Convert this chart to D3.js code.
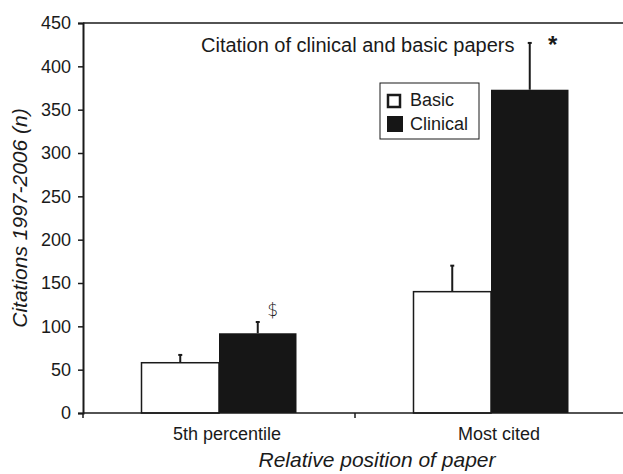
<!DOCTYPE html>
<html lang="en">
<head>
    <meta charset="UTF-8">
    <title>Citation of clinical and basic papers</title>
    <script src="https://d3js.org/d3.v7.min.js"></script>
    <style>
        body { margin: 0; background: #fff; }
        text { font-family: "Liberation Sans", Arial, sans-serif; fill: #1a1a1a; }
    </style>
</head>
<body>
    <svg width="623" height="474"></svg>
    <script>
        // data
        const categories = ["5th percentile", "Most cited"];
        const series = ["Basic", "Clinical"];
        const basicValues = [58, 140];
        const basicErrTop = [67, 170];
        const clinicalValues = [92, 373];
        const clinicalErrTop = [105, 427];
        const yTicks = [0, 50, 100, 150, 200, 250, 300, 350, 400, 450];
        const marks = ["$", "*"];

        const width = 623, height = 474;
        const margin = {top: 23, left: 83, bottom: 61};
        const svg = d3.select("svg");

        const x0 = d3.scaleBand()
            .domain(categories)
            .range([margin.left, 627]);

        const x1 = d3.scaleBand()
            .domain(series)
            .range([58.5, x0.bandwidth() - 58.5]);

        const y = d3.scaleLinear()
            .domain([0, 450])
            .range([height - margin.bottom, margin.top]);

        const fill = {Basic: "#fff", Clinical: "#161616"};

        const rows = categories.map((c, i) => ({
            cat: c,
            vals: [
                {s: "Basic", v: basicValues[i], e: basicErrTop[i]},
                {s: "Clinical", v: clinicalValues[i], e: clinicalErrTop[i]}
            ]
        }));

        // top frame line
        svg.append("line")
            .attr("x1", margin.left).attr("x2", width)
            .attr("y1", y(450)).attr("y2", y(450))
            .attr("stroke", "#1a1a1a").attr("stroke-width", 1.5);

        // y axis
        const yAxis = svg.append("g")
            .attr("transform", `translate(${margin.left},0)`)
            .call(d3.axisLeft(y).tickValues(yTicks).tickSize(5).tickPadding(7));
        yAxis.select(".domain").attr("stroke", "#1a1a1a").attr("stroke-width", 2);
        yAxis.selectAll(".tick line").attr("stroke", "#1a1a1a").attr("stroke-width", 1.5);
        yAxis.selectAll(".tick text")
            .style("font-size", "18px")
            .style("font-family", "Liberation Sans, Arial, sans-serif")
            .attr("fill", "#1a1a1a");

        // bars
        const groups = svg.selectAll(".grp")
            .data(rows)
            .enter().append("g")
            .attr("class", "grp")
            .attr("transform", d => `translate(${x0(d.cat)},0)`);

        // error bars (upper only)
        groups.selectAll(".err")
            .data(d => d.vals)
            .enter().append("g")
            .attr("class", "err")
            .each(function(d) {
                const g = d3.select(this);
                const cx = x1(d.s) + x1.bandwidth() / 2;
                g.append("line")
                    .attr("x1", cx).attr("x2", cx)
                    .attr("y1", y(d.v)).attr("y2", y(d.e))
                    .attr("stroke", "#1a1a1a").attr("stroke-width", 2);
                g.append("line")
                    .attr("x1", cx - 2).attr("x2", cx + 2)
                    .attr("y1", y(d.e)).attr("y2", y(d.e))
                    .attr("stroke", "#1a1a1a").attr("stroke-width", 2);
            });

        groups.selectAll("rect")
            .data(d => d.vals)
            .enter().append("rect")
            .attr("x", d => x1(d.s))
            .attr("y", d => y(d.v))
            .attr("width", x1.bandwidth())
            .attr("height", d => y(0) - y(d.v))
            .attr("fill", d => fill[d.s])
            .attr("stroke", d => d.s === "Basic" ? "#1a1a1a" : "none")
            .attr("stroke-width", 1.5);

        // x axis line and ticks at band edges
        svg.append("line")
            .attr("x1", margin.left).attr("x2", width)
            .attr("y1", y(0)).attr("y2", y(0))
            .attr("stroke", "#1a1a1a").attr("stroke-width", 1.5);
        const edges = categories.map(c => x0(c)).concat([x0.range()[1]]);
        svg.selectAll(".xtick")
            .data(edges)
            .enter().append("line")
            .attr("class", "xtick")
            .attr("x1", d => d).attr("x2", d => d)
            .attr("y1", y(0)).attr("y2", y(0) + 5)
            .attr("stroke", "#1a1a1a").attr("stroke-width", 1.5);

        svg.selectAll(".xlab")
            .data(categories)
            .enter().append("text")
            .attr("class", "xlab")
            .attr("x", d => x0(d) + x0.bandwidth() / 2 + 8)
            .attr("y", y(0) + 27)
            .attr("text-anchor", "middle")
            .style("font-size", "18px")
            .text(d => d);

        // significance marks above clinical error bars
        svg.append("text")
            .attr("x", x0(categories[0]) + x1("Clinical") + x1.bandwidth() / 2 + 15)
            .attr("y", y(clinicalErrTop[0]) - 6)
            .attr("text-anchor", "middle")
            .style("font-family", "DejaVu Sans, sans-serif")
            .style("font-size", "17px")
            .style("font-weight", "200")
            .text(marks[0]);
        svg.append("text")
            .attr("x", x0(categories[1]) + x1("Clinical") + x1.bandwidth() / 2 + 23)
            .attr("y", y(clinicalErrTop[1]) + 10)
            .attr("text-anchor", "middle")
            .style("font-size", "24px")
            .style("font-weight", "bold")
            .text(marks[1]);

        // title
        svg.append("text")
            .attr("x", 201)
            .attr("y", 52)
            .style("font-size", "20px")
            .text("Citation of clinical and basic papers");

        // legend
        const legend = svg.append("g").attr("transform", "translate(380,83)");
        legend.append("rect")
            .attr("width", 99).attr("height", 56)
            .attr("fill", "#fff").attr("stroke", "#1a1a1a").attr("stroke-width", 1);
        series.forEach((s, i) => {
            legend.append("rect")
                .attr("x", s === "Basic" ? 8 : 7)
                .attr("y", 11 + i * 22 + (s === "Basic" ? 1 : 0))
                .attr("width", s === "Basic" ? 12 : 16)
                .attr("height", s === "Basic" ? 12 : 16)
                .attr("fill", fill[s])
                .attr("stroke", s === "Basic" ? "#1a1a1a" : "none")
                .attr("stroke-width", 2.5);
            legend.append("text")
                .attr("x", 30)
                .attr("y", 23 + i * 24)
                .style("font-size", "18px")
                .text(s);
        });

        // axis titles
        svg.append("text")
            .attr("transform", "rotate(-90)")
            .attr("x", -218)
            .attr("y", 27)
            .attr("text-anchor", "middle")
            .style("font-size", "21px")
            .style("font-style", "italic")
            .text("Citations 1997-2006 (n)");

        svg.append("text")
            .attr("x", 377)
            .attr("y", 467)
            .attr("text-anchor", "middle")
            .style("font-size", "21px")
            .style("font-style", "italic")
            .text("Relative position of paper");
    </script>
</body>
</html>
